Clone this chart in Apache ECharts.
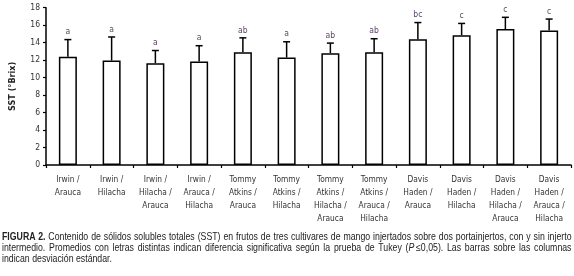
<!DOCTYPE html>
<html>
<head>
<meta charset="utf-8">
<script src="https://cdn.jsdelivr.net/npm/echarts@6/dist/echarts.min.js"></script>
<style>
  body { margin: 0; background: #fff; }
  #wrap { position: relative; width: 574px; height: 276px; overflow: hidden; }
  #chart { position: absolute; left: 0; top: 0; width: 574px; height: 276px; }
  #caption {
    position: absolute; left: 2px; top: 231px; width: 670px;
    transform: scaleX(0.85); transform-origin: 0 0;
    font-family: "Liberation Sans", Arial, sans-serif;
    font-size: 10.3px; line-height: 11px; color: #222;
  }
  #caption div { text-align: justify; text-align-last: justify; white-space: nowrap; }
  #caption div.last { text-align-last: left; }
  #caption b { font-weight: bold; }
</style>
</head>
<body>
<div id="wrap">
  <div id="chart"></div>
  <div id="caption">
    <div><b>FIGURA 2.</b> Contenido de sólidos solubles totales (SST) en frutos de tres cultivares de mango injertados sobre dos portainjertos, con y sin injerto</div>
    <div>intermedio. Promedios con letras distintas indican diferencia significativa según la prueba de Tukey (<i>P</i>&thinsp;≤0,05). Las barras sobre las columnas</div>
    <div class="last">indican desviación estándar.</div>
  </div>
</div>
<script>
	//categorías (cultivar / portainjerto / interinjerto)
	var categories = [
		'Irwin /\nArauca', 'Irwin /\nHilacha', 'Irwin /\nHilacha /\nArauca', 'Irwin /\nArauca /\nHilacha',
		'Tommy\nAtkins /\nArauca', 'Tommy\nAtkins /\nHilacha', 'Tommy\nAtkins /\nHilacha /\nArauca', 'Tommy\nAtkins /\nArauca /\nHilacha',
		'Davis\nHaden /\nArauca', 'Davis\nHaden /\nHilacha', 'Davis\nHaden /\nHilacha /\nArauca', 'Davis\nHaden /\nArauca /\nHilacha'
	];
	//promedios SST (°Brix)
	var sst = [12.4, 11.95, 11.65, 11.85, 12.9, 12.3, 12.8, 12.9, 14.4, 14.85, 15.55, 15.4];
	//desviación estándar
	var desv = [1.95, 2.7, 1.45, 1.8, 1.65, 1.8, 1.15, 1.55, 1.9, 1.35, 1.35, 1.3];
	//letras de Tukey
	var letras = ['a', 'a', 'a', 'a', 'ab', 'a', 'ab', 'ab', 'bc', 'c', 'c', 'c'];
	//marcas del eje y
	var yTicks = [0, 2, 4, 6, 8, 10, 12, 14, 16, 18];

	var fuente = '"DejaVu Sans Condensed", "Liberation Sans", sans-serif';

	var errData = [];
	for (var i = 0; i < sst.length; i++) {
		errData.push([i, sst[i], desv[i], letras[i]]);
	}

	var chart = echarts.init(document.getElementById('chart'), null, {renderer: 'canvas'});
	var option = {
		animation: false,
		grid: { left: 44, right: 3, top: 7.7, bottom: 111 },
		xAxis: {
			type: 'category',
			data: categories,
			axisLine: { lineStyle: { color: '#000', width: 1.5 } },
			axisTick: { show: true, length: 3, lineStyle: { color: '#000', width: 1.2 } },
			axisLabel: {
				interval: 0, margin: 8, fontFamily: fuente, fontSize: 8.3,
				lineHeight: 13, color: '#333', align: 'center'
			}
		},
		yAxis: {
			type: 'value',
			min: yTicks[0], max: yTicks[yTicks.length - 1], interval: 2,
			name: 'SST (°Brix)',
			nameLocation: 'middle',
			nameGap: 29,
			nameTextStyle: { fontFamily: fuente, fontSize: 9, fontWeight: 'bold', color: '#222' },
			splitLine: { show: false },
			axisLine: { show: true, lineStyle: { color: '#000', width: 1.5 } },
			axisTick: { show: true, length: 3, lineStyle: { color: '#000', width: 1.2 } },
			axisLabel: { fontFamily: fuente, fontSize: 8.5, color: '#333', margin: 6 }
		},
		series: [{
			type: 'bar',
			data: sst,
			barWidth: 18,
			itemStyle: { color: '#fff', borderColor: '#000', borderWidth: 1.5 }
		}, {
			//barras de desviación + letras
			type: 'custom',
			data: errData,
			z: 10,
			renderItem: function (params, api) {
				var x = api.value(0);
				var top = api.coord([x, api.value(1) + api.value(2)]);
				var base = api.coord([x, api.value(1)]);
				var half = 3.5;
				var st = { stroke: '#000', lineWidth: 1.5 };
				return {
					type: 'group',
					children: [
						{ type: 'line', shape: { x1: top[0], y1: base[1], x2: top[0], y2: top[1] }, style: st },
						{ type: 'line', shape: { x1: top[0] - half, y1: top[1], x2: top[0] + half, y2: top[1] }, style: st },
						{ type: 'text', x: top[0], y: top[1] - 3,
						  style: { text: errData[params.dataIndex][3], fill: '#5e4766', font: '8.5px ' + fuente,
						           align: 'center', verticalAlign: 'bottom' } }
					]
				};
			}
		}]
	};
	chart.setOption(option);
</script>
</body>
</html>
